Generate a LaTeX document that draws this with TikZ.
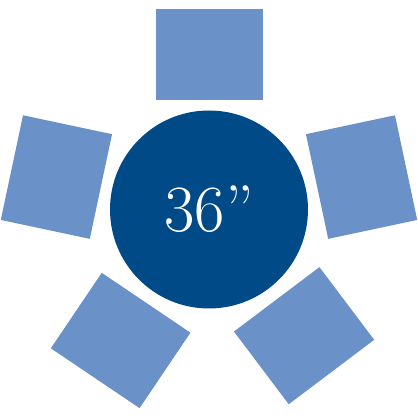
\documentclass[tikz,border=0pt]{standalone}
\usepackage{xcolor}
\usepackage{tikz}
\usetikzlibrary{positioning}

\definecolor{tableblue}{HTML}{004A88}
\definecolor{seatblue}{HTML}{6A91C8}

\begin{document}
\begin{tikzpicture}[x=1pt, y=1pt,
    seat/.style={rectangle, fill=seatblue, minimum width=107pt, minimum height=91pt, inner sep=0pt}]
    \useasboundingbox (0,0) rectangle (418,418);
    \node[circle, fill=tableblue, minimum size=198pt, inner sep=0pt, text=white,
          font=\fontsize{66}{66}\selectfont] (table) at (209,208.5) {36''};

    \node[seat, rotate=0] (top) at ([shift={(90:155pt)}]table) {};
    \node[seat, rotate=-78] (right) at ([shift={(12:156pt)}]table) {};
    \node[seat, rotate=78] (left) at ([shift={(168:156pt)}]table) {};
    \node[seat, rotate=-143] (lowright) at ([shift={(-53:158pt)}]table) {};
    \node[seat, rotate=146] (lowleft) at ([shift={(-124:158pt)}]table) {};
\end{tikzpicture}
\end{document}
